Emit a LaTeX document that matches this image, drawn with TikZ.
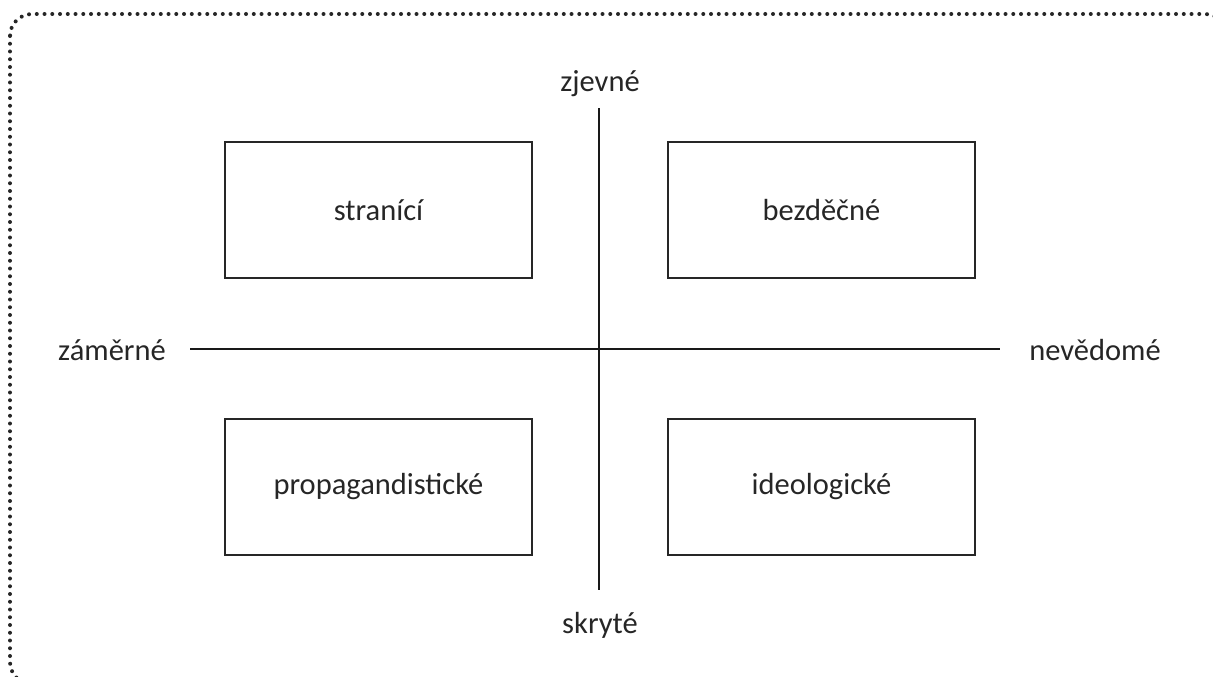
\documentclass[tikz,border=0pt]{standalone}
\usepackage{fontspec}
\setmainfont{Carlito}[Ligatures=Common]
\begin{document}
\begin{tikzpicture}[x=1pt,y=-1pt,
  box/.style={draw=black!85, line width=1.8pt, minimum width=307pt, minimum height=136pt, inner sep=0pt, font=\fontsize{30.5}{36}\selectfont, text=black!85},
  lbl/.style={inner sep=0pt, font=\fontsize{30.5}{36}\selectfont, text=black!85},
  axis/.style={draw=black!90, line width=2pt},
  border/.style={draw=black!85, line width=4pt, line cap=round, dash pattern=on 0pt off 7.75pt, rounded corners=22pt}]
\useasboundingbox (0,0) rectangle (1213,677);
\begin{scope}
\clip (0,0) rectangle (1213,677);
\draw[border] (10,14) rectangle (1227,684);
\end{scope}
\node[box] (b1) at (378.5,210) {stranící};
\node[box] (b2) at (821.5,210) {bezděčné};
\node[box] (b3) at (378.5,487) {propagandistické};
\node[box] (b4) at (821.5,487) {ideologické};
\node[lbl] (top) at (600,84) {zjevné};
\node[lbl] (bot) at (600,625) {skryté};
\node[lbl] (left) at (112,350) {záměrné};
\node[lbl] (right) at (1095,350) {nevědomé};
\coordinate (vt) at (599,108);
\coordinate (vb) at (599,590);
\coordinate (hl) at (190,349);
\coordinate (hr) at (1000,349);
\draw[axis] (vt) -- (vb);
\draw[axis] (hl) -- (hr);
\end{tikzpicture}
\end{document}
